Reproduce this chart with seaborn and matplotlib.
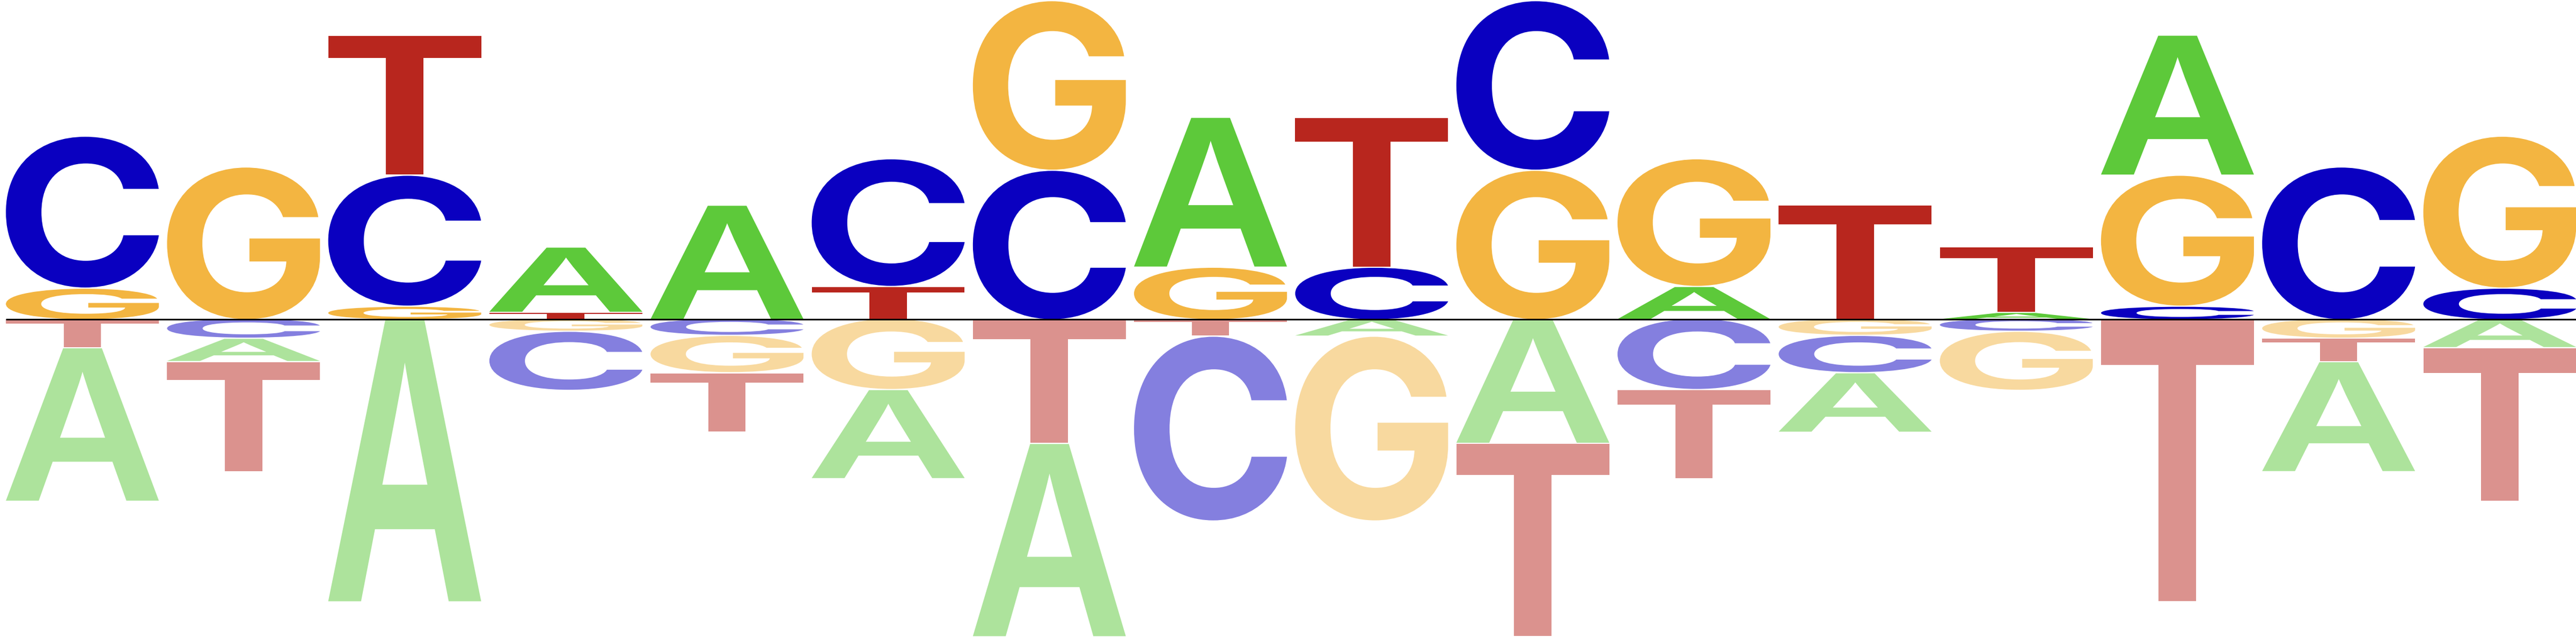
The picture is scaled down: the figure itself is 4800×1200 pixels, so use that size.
import numpy as np
import pandas as pd
import matplotlib
matplotlib.use("Agg")
import matplotlib.pyplot as plt
import seaborn as sns
from matplotlib.textpath import TextPath
from matplotlib.font_manager import FontProperties
from matplotlib.patches import PathPatch
from matplotlib.transforms import Affine2D

# -----------------------------
# DATA (letter heights per position)
# -----------------------------
positions = list(range(1, 17))
bases = ["A", "C", "G", "T"]

# enriched (above the line)
a_up = [0, 0, 0, 1.59, 2.79, 0, 0, 3.65, 0, 0, 0.81, 0, 0.18, 3.41, 0, 0]
c_up = [3.70, 0, 3.19, 0, 0, 3.11, 3.64, 0, 1.28, 4.13, 0, 0, 0, 0.33, 3.72, 0.77]
g_up = [0.77, 3.72, 0.33, 0, 0, 0, 4.13, 1.28, 0, 3.64, 3.11, 0, 0, 3.19, 0, 3.70]
t_up = [0, 0, 3.41, 0.18, 0, 0.81, 0, 0, 3.65, 0, 0, 2.79, 1.59, 0, 0, 0]

# depleted (below the line)
a_dn = [3.74, 0.57, 6.90, 0, 0, 2.17, 4.71, 0, 0.43, 3.04, 0, 1.45, 0, 0, 2.68, 0.71]
c_dn = [0, 0.48, 0, 1.44, 0.41, 0, 0, 4.50, 0, 0, 1.73, 0.91, 0.31, 0, 0, 0]
g_dn = [0, 0, 0, 0.31, 0.91, 1.73, 0, 0, 4.50, 0, 0, 0.41, 1.44, 0, 0.48, 0]
t_dn = [0.71, 2.68, 0, 0, 1.45, 0, 3.04, 0.43, 0, 4.71, 2.17, 0, 0, 6.90, 0.57, 3.74]

colors = {"A": "#5dc93a", "C": "#0a00c0", "G": "#f3b541", "T": "#b8261e"}

# -----------------------------
# LONG TABLE
# -----------------------------
rows = []
for base, up, dn in zip(bases, [a_up, c_up, g_up, t_up], [a_dn, c_dn, g_dn, t_dn]):
    for p, u, d in zip(positions, up, dn):
        rows.append((p, base, "up", u))
        rows.append((p, base, "down", d))
df = pd.DataFrame(rows, columns=["pos", "base", "side", "height"])
df = df[df["height"] > 0]

# -----------------------------
# PLOT
# -----------------------------
sns.set_theme(style="white")
fig = plt.figure(figsize=(48, 12), dpi=100)
ax = fig.add_axes([0, 0, 1, 1])

# flat-topped A/T from Liberation, flat-terminal C/G from Inter
fonts = {
    "A": FontProperties(family="Liberation Sans", weight="bold"),
    "T": FontProperties(family="Liberation Sans", weight="bold"),
    "C": FontProperties(family="Inter", weight="bold"),
    "G": FontProperties(family="Inter", weight="bold"),
}
letter_w = 0.949
gap = 0.03


def draw_letter(ax, base, x, y0, h, color, alpha):
    tp = TextPath((0, 0), base, size=1, prop=fonts[base])
    bb = tp.get_extents()
    tr = (Affine2D()
          .translate(-bb.x0, -bb.y0)
          .scale(letter_w / bb.width, h / bb.height)
          .translate(x - letter_w / 2, y0))
    ax.add_patch(PathPatch(tr.transform_path(tp), facecolor=color,
                           edgecolor="none", lw=0, alpha=alpha))


for (p, side), grp in df.groupby(["pos", "side"]):
    grp = grp.sort_values("height")
    y = 0.0
    for _, r in grp.iterrows():
        h = r["height"]
        gh = max(h - gap, 0.02)
        if side == "up":
            draw_letter(ax, r["base"], p, y, gh, colors[r["base"]], 1.0)
            y += h
        else:
            draw_letter(ax, r["base"], p, y - h + gap, gh, colors[r["base"]], 0.5)
            y -= h

x_left = 1 - 153.5 / 300.3
x_right = 1 + (4800 - 153.5) / 300.3
ax.hlines(0, 1 - letter_w / 2, x_right, color="black", lw=2.2, zorder=5)

ax.set_xlim(x_left, x_right)
ax.set_ylim(-7.91, 7.77)
ax.axis("off")
sns.despine(left=True, bottom=True)

fig.savefig("out.png", dpi=100)
